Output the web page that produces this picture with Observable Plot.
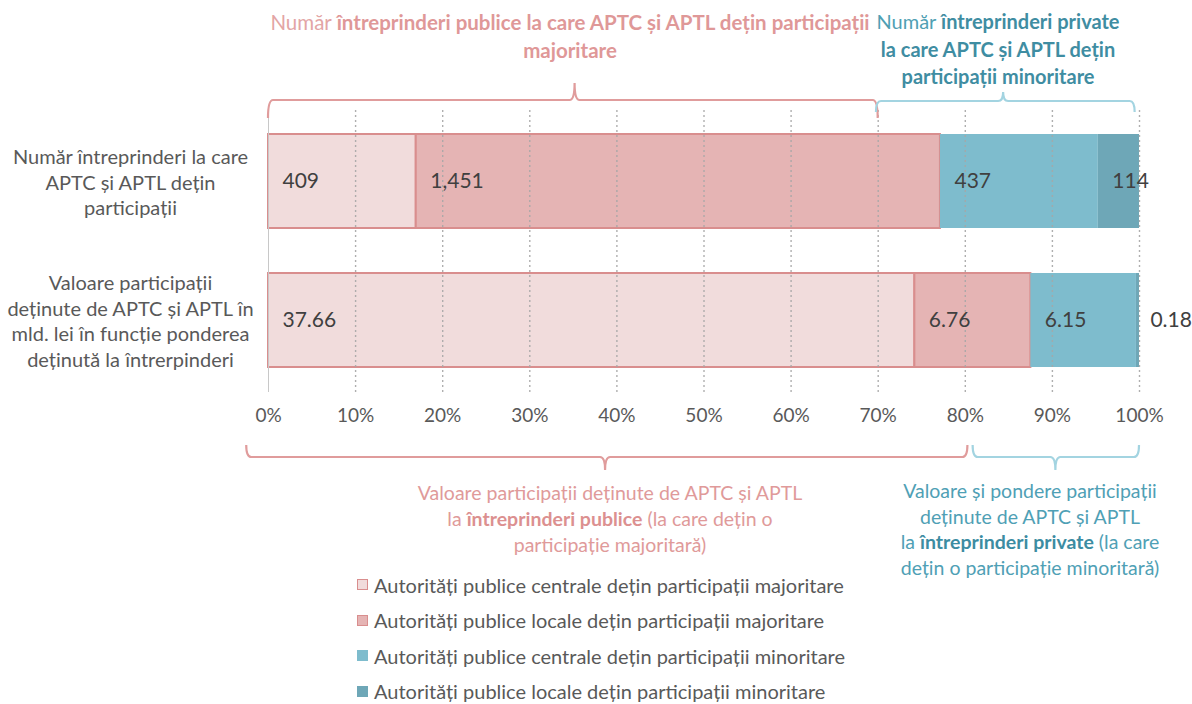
<!DOCTYPE html>
<html><head><meta charset="utf-8">
<script src="https://cdn.jsdelivr.net/npm/d3@7"></script>
<script src="https://cdn.jsdelivr.net/npm/@observablehq/plot@0.6"></script>
<style>
body{margin:0;background:#fff;font-family:Lato,"Open Sans",sans-serif;}
#wrap{position:relative;width:1192px;height:704px;overflow:hidden;}
#legend{position:absolute;left:357px;top:567px;}
.item{height:35.5px;display:flex;align-items:center;font-size:20px;color:#595959;white-space:nowrap;}
.sw{width:11px;height:11px;margin-right:6px;box-sizing:border-box;}
</style></head><body><div id="wrap"><div id="chart"></div><div id="legend"></div></div>
<script>
const rows = ["count", "value"];
const rowLabels = [
  "Număr întreprinderi la care\nAPTC și APTL dețin\nparticipații",
  "Valoare participații\ndeținute de APTC și APTL în\nmld. lei în funcție ponderea\ndeținută la întrerpinderi"
];
const series = [
  "Autorități publice centrale dețin participații majoritare",
  "Autorități publice locale dețin participații majoritare",
  "Autorități publice centrale dețin participații minoritare",
  "Autorități publice locale dețin participații minoritare"
];
const countValues = [409, 1451, 437, 114];
const valueValues = [37.66, 6.76, 6.15, 0.18];
const tickValues = [0, 0.1, 0.2, 0.3, 0.4, 0.5, 0.6, 0.7, 0.8, 0.9, 1];
const colors = ["#f1dcdc", "#e5b4b4", "#7ebccd", "#6ea7b7"];
const strokeW = [2, 2, 0, 0];

const data = [];
series.forEach((s, i) => data.push({row: rows[0], series: s, value: countValues[i], label: d3.format(",")(countValues[i]), sw: strokeW[i]}));
series.forEach((s, i) => data.push({row: rows[1], series: s, value: valueValues[i], label: d3.format(".2f")(valueValues[i]), sw: strokeW[i]}));

const plot = Plot.plot({
  width: 1192, height: 580,
  marginLeft: 268, marginRight: 53, marginTop: 110, marginBottom: 188,
  style: {fontFamily: "Lato, 'Open Sans', sans-serif", fontSize: "16px", color: "#595959", background: "white"},
  x: {domain: [0, 1]},
  y: {domain: rows, paddingInner: 0.3237, paddingOuter: 0.176, axis: null},
  color: {domain: series, range: colors},
  marks: [
    Plot.barX(data, Plot.stackX({x: "value", y: "row", fill: "series", offset: "normalize", stroke: "#d98e8e", strokeWidth: d => d.sw})),
    Plot.gridX(tickValues.slice(1), {stroke: "#a6a6a6", strokeOpacity: 0.9, strokeDasharray: "2,3", strokeWidth: 1.4}),
    Plot.ruleX([0], {stroke: "#c8c8c8"}),
    Plot.text(data, Plot.stackX1({x: "value", y: "row", offset: "normalize", text: "label", textAnchor: "start", dx: 14, fill: "#404040", fontSize: 21})),
    Plot.axisX(tickValues, {label: null, tickSize: 0, tickPadding: 16, tickFormat: d => Math.round(d * 100) + "%", fontSize: 19, fill: "#595959"}),
    Plot.text(rows, {y: d => d, text: (d, i) => rowLabels[i], frameAnchor: "left", dx: -138, textAnchor: "middle", lineHeight: 1.28, fill: "#595959", fontSize: 20})
  ]
});
document.getElementById("chart").appendChild(plot);

// annotations: braces and texts
const xs = plot.scale("x");
const X = v => xs.apply(v);
const svg = d3.select(plot);
const pink = "#e09c9c", teal = "#a3d4e1";
function brace(a, b, c, y, tipY, endY, color) {
  const x0 = X(a), x1 = X(b), xc = X(c), r = 5;
  const p = `M${x0},${endY} Q${x0},${y} ${x0 + r},${y} L${xc - r},${y} Q${xc},${y} ${xc},${tipY} Q${xc},${y} ${xc + r},${y} L${x1 - r},${y} Q${x1},${y} ${x1},${endY}`;
  svg.append("path").attr("d", p).attr("fill", "none").attr("stroke", color).attr("stroke-width", 2.2);
}
brace(0, 0.7, 0.352, 100, 83, 118, pink);
brace(0.698, 0.995, 0.844, 101, 92, 112, teal);
brace(-0.025, 0.803, 0.387, 457, 470, 445, pink);
brace(0.809, 1.0, 0.904, 457, 470, 445, teal);

function label(cx, y0, lh, lines, color, boldColor, size) {
  lines.forEach((segs, i) => {
    const t = svg.append("text").attr("x", cx).attr("y", y0 + i * lh).attr("text-anchor", "middle")
      .attr("font-size", size).attr("font-family", "Lato, 'Open Sans', sans-serif");
    segs.forEach(([s, b]) => t.append("tspan").text(s).attr("font-weight", b ? "bold" : "normal").attr("fill", b ? boldColor : color));
  });
}
label(570, 30, 28, [
  [["Număr ", false], ["întreprinderi publice la care APTC și APTL dețin participații", true]],
  [["majoritare", true]]
], "#e3a5a5", "#df9898", 20.5);
label(998, 29, 27.5, [
  [["Număr ", false], ["întreprinderi private", true]],
  [["la care APTC și APTL dețin", true]],
  [["participații minoritare", true]]
], "#4f9fb3", "#3f8da2", 20);
label(610, 500, 26, [
  [["Valoare participații deținute de APTC și APTL", false]],
  [["la ", false], ["întreprinderi publice", true], [" (la care dețin o", false]],
  [["participație majoritară)", false]]
], "#e09a9a", "#dc9090", 19.5);
label(1030, 498, 25.5, [
  [["Valoare și pondere participații", false]],
  [["deținute de APTC și APTL", false]],
  [["la ", false], ["întreprinderi private", true], [" (la care", false]],
  [["dețin o participație minoritară)", false]]
], "#4fa0b5", "#3c8ca2", 19.5);

// legend
const leg = d3.select("#legend");
series.forEach((s, i) => {
  const it = leg.append("div").attr("class", "item");
  it.append("div").attr("class", "sw").style("background", colors[i])
    .style("border", strokeW[i] ? "1.5px solid #d98e8e" : "none");
  it.append("span").text(s);
});
</script></body></html>
